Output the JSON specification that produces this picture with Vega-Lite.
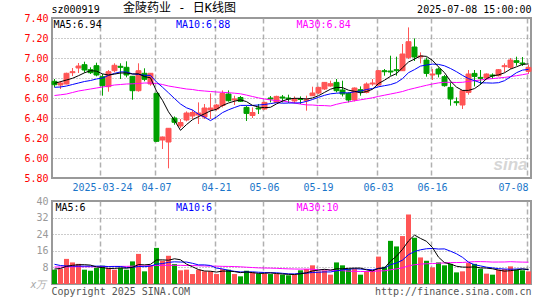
{
"$schema":"https://vega.github.io/schema/vega-lite/v6.json",
"padding":{"left":22,"top":1,"right":14,"bottom":2},
"background":"white",
"spacing":2,
"datasets":{"k":[
{"d":"2025-03-12","o":6.767,"h":6.79,"l":6.707,"c":6.733,"v":6.9,"m5":6.747,"m10":6.707,"m30":6.625,"v5":7.2,"v10":9.5,"v30":8.2},
{"d":"2025-03-13","o":6.73,"h":6.77,"l":6.69,"c":6.75,"v":7.4,"m5":6.763,"m10":6.71,"m30":6.632,"v5":7.5,"v10":8.9,"v30":8.2},
{"d":"2025-03-14","o":6.74,"h":6.853,"l":6.737,"c":6.847,"v":12.1,"m5":6.78,"m10":6.72,"m30":6.64,"v5":8.5,"v10":8.7,"v30":8.2},
{"d":"2025-03-17","o":6.853,"h":6.9,"l":6.82,"c":6.863,"v":10.4,"m5":6.797,"m10":6.735,"m30":6.655,"v5":9.0,"v10":8.6,"v30":8.3},
{"d":"2025-03-18","o":6.9,"h":6.95,"l":6.85,"c":6.92,"v":9.7,"m5":6.823,"m10":6.75,"m30":6.67,"v5":9.3,"v10":8.6,"v30":8.3},
{"d":"2025-03-19","o":6.933,"h":6.963,"l":6.853,"c":6.88,"v":6.9,"m5":6.852,"m10":6.765,"m30":6.68,"v5":9.3,"v10":8.6,"v30":8.3},
{"d":"2025-03-20","o":6.883,"h":6.907,"l":6.84,"c":6.853,"v":6.4,"m5":6.873,"m10":6.775,"m30":6.69,"v5":9.1,"v10":8.6,"v30":8.3},
{"d":"2025-03-21","o":6.923,"h":6.953,"l":6.817,"c":6.83,"v":7.7,"m5":6.869,"m10":6.79,"m30":6.7,"v5":8.22,"v10":8.6,"v30":8.3},
{"d":"2025-03-24","o":6.813,"h":6.84,"l":6.623,"c":6.723,"v":8.8,"m5":6.841,"m10":6.8,"m30":6.71,"v5":7.9,"v10":8.6,"v30":8.4},
{"d":"2025-03-25","o":6.713,"h":6.88,"l":6.663,"c":6.863,"v":7.7,"m5":6.83,"m10":6.826,"m30":6.72,"v5":7.5,"v10":8.4,"v30":8.4},
{"d":"2025-03-26","o":6.873,"h":6.947,"l":6.857,"c":6.927,"v":6.9,"m5":6.839,"m10":6.846,"m30":6.73,"v5":7.5,"v10":8.4,"v30":8.5},
{"d":"2025-03-27","o":6.917,"h":6.947,"l":6.79,"c":6.907,"v":7.7,"m5":6.85,"m10":6.861,"m30":6.735,"v5":7.76,"v10":8.43,"v30":8.5},
{"d":"2025-03-28","o":6.907,"h":6.967,"l":6.807,"c":6.83,"v":6.9,"m5":6.85,"m10":6.86,"m30":6.74,"v5":7.6,"v10":7.91,"v30":8.5},
{"d":"2025-03-31","o":6.817,"h":6.82,"l":6.583,"c":6.673,"v":10.9,"m5":6.84,"m10":6.841,"m30":6.742,"v5":8.02,"v10":7.96,"v30":8.6},
{"d":"2025-04-01","o":6.673,"h":6.947,"l":6.663,"c":6.873,"v":14.5,"m5":6.842,"m10":6.836,"m30":6.745,"v5":9.38,"v10":8.44,"v30":8.7},
{"d":"2025-04-02","o":6.847,"h":6.897,"l":6.767,"c":6.787,"v":6.1,"m5":6.814,"m10":6.827,"m30":6.75,"v5":9.22,"v10":8.36,"v30":8.7},
{"d":"2025-04-03","o":6.74,"h":6.85,"l":6.723,"c":6.847,"v":9.0,"m5":6.802,"m10":6.826,"m30":6.75,"v5":9.48,"v10":8.62,"v30":8.8},
{"d":"2025-04-07","o":6.647,"h":6.65,"l":6.16,"c":6.167,"v":17.4,"m5":6.669,"m10":6.76,"m30":6.745,"v5":11.58,"v10":9.59,"v30":8.9},
{"d":"2025-04-08","o":6.18,"h":6.215,"l":6.09,"c":6.21,"v":11.2,"m5":6.577,"m10":6.708,"m30":6.735,"v5":11.64,"v10":9.83,"v30":9.0},
{"d":"2025-04-09","o":6.16,"h":6.3,"l":5.897,"c":6.297,"v":13.6,"m5":6.462,"m10":6.652,"m30":6.72,"v5":11.46,"v10":10.42,"v30":9.0},
{"d":"2025-04-10","o":6.4,"h":6.416,"l":6.333,"c":6.357,"v":9.6,"m5":6.376,"m10":6.595,"m30":6.71,"v5":12.16,"v10":10.69,"v30":9.0},
{"d":"2025-04-11","o":6.32,"h":6.39,"l":6.3,"c":6.355,"v":6.6,"m5":6.277,"m10":6.54,"m30":6.7,"v5":11.68,"v10":10.58,"v30":9.0},
{"d":"2025-04-14","o":6.38,"h":6.466,"l":6.366,"c":6.45,"v":6.9,"m5":6.334,"m10":6.502,"m30":6.69,"v5":9.58,"v10":10.58,"v30":8.9},
{"d":"2025-04-15","o":6.42,"h":6.48,"l":6.39,"c":6.455,"v":4.8,"m5":6.383,"m10":6.48,"m30":6.685,"v5":8.3,"v10":9.97,"v30":8.9},
{"d":"2025-04-16","o":6.43,"h":6.556,"l":6.34,"c":6.45,"v":6.9,"m5":6.413,"m10":6.438,"m30":6.675,"v5":6.96,"v10":9.21,"v30":8.8},
{"d":"2025-04-17","o":6.41,"h":6.54,"l":6.39,"c":6.5,"v":6.1,"m5":6.442,"m10":6.409,"m30":6.67,"v5":6.26,"v10":9.21,"v30":8.7},
{"d":"2025-04-18","o":6.48,"h":6.646,"l":6.39,"c":6.5,"v":6.1,"m5":6.471,"m10":6.374,"m30":6.665,"v5":6.16,"v10":8.92,"v30":8.6},
{"d":"2025-04-21","o":6.49,"h":6.54,"l":6.473,"c":6.53,"v":4.8,"m5":6.487,"m10":6.41,"m30":6.66,"v5":5.74,"v10":7.66,"v30":8.6},
{"d":"2025-04-22","o":6.525,"h":6.676,"l":6.506,"c":6.645,"v":7.2,"m5":6.525,"m10":6.454,"m30":6.657,"v5":6.22,"v10":7.26,"v30":8.5},
{"d":"2025-04-23","o":6.64,"h":6.676,"l":6.563,"c":6.573,"v":6.9,"m5":6.55,"m10":6.482,"m30":6.653,"v5":6.22,"v10":6.59,"v30":8.47},
{"d":"2025-04-24","o":6.58,"h":6.623,"l":6.53,"c":6.59,"v":4.8,"m5":6.568,"m10":6.505,"m30":6.648,"v5":5.96,"v10":6.11,"v30":8.4},
{"d":"2025-04-25","o":6.605,"h":6.62,"l":6.56,"c":6.567,"v":3.7,"m5":6.581,"m10":6.526,"m30":6.642,"v5":5.48,"v10":5.82,"v30":8.28},
{"d":"2025-04-28","o":6.506,"h":6.523,"l":6.37,"c":6.446,"v":6.4,"m5":6.564,"m10":6.526,"m30":6.629,"v5":5.8,"v10":5.77,"v30":8.09},
{"d":"2025-04-29","o":6.425,"h":6.506,"l":6.4,"c":6.455,"v":5.6,"m5":6.526,"m10":6.526,"m30":6.615,"v5":5.48,"v10":5.85,"v30":7.93},
{"d":"2025-04-30","o":6.5,"h":6.54,"l":6.44,"c":6.49,"v":5.0,"m5":6.51,"m10":6.53,"m30":6.601,"v5":5.1,"v10":5.66,"v30":7.77},
{"d":"2025-05-06","o":6.49,"h":6.563,"l":6.483,"c":6.556,"v":5.0,"m5":6.503,"m10":6.535,"m30":6.59,"v5":5.14,"v10":5.55,"v30":7.71},
{"d":"2025-05-07","o":6.6,"h":6.62,"l":6.556,"c":6.59,"v":4.8,"m5":6.507,"m10":6.544,"m30":6.581,"v5":5.36,"v10":5.42,"v30":7.65},
{"d":"2025-05-08","o":6.556,"h":6.623,"l":6.55,"c":6.616,"v":4.8,"m5":6.541,"m10":6.553,"m30":6.574,"v5":5.04,"v10":5.42,"v30":7.56},
{"d":"2025-05-09","o":6.61,"h":6.63,"l":6.556,"c":6.6,"v":4.5,"m5":6.57,"m10":6.548,"m30":6.57,"v5":4.82,"v10":5.15,"v30":7.41},
{"d":"2025-05-12","o":6.6,"h":6.633,"l":6.55,"c":6.59,"v":4.2,"m5":6.59,"m10":6.55,"m30":6.561,"v5":4.66,"v10":4.88,"v30":7.3},
{"d":"2025-05-13","o":6.57,"h":6.616,"l":6.546,"c":6.59,"v":4.5,"m5":6.597,"m10":6.55,"m30":6.55,"v5":4.56,"v10":4.85,"v30":7.22},
{"d":"2025-05-14","o":6.59,"h":6.616,"l":6.54,"c":6.585,"v":6.6,"m5":6.596,"m10":6.552,"m30":6.539,"v5":4.92,"v10":5.14,"v30":7.18},
{"d":"2025-05-15","o":6.573,"h":6.623,"l":6.473,"c":6.583,"v":7.2,"m5":6.59,"m10":6.566,"m30":6.531,"v5":5.4,"v10":5.22,"v30":7.19},
{"d":"2025-05-16","o":6.623,"h":6.713,"l":6.62,"c":6.65,"v":9.0,"m5":6.6,"m10":6.585,"m30":6.53,"v5":6.3,"v10":5.56,"v30":7.13},
{"d":"2025-05-19","o":6.65,"h":6.713,"l":6.64,"c":6.706,"v":6.1,"m5":6.623,"m10":6.607,"m30":6.525,"v5":6.68,"v10":5.67,"v30":6.85},
{"d":"2025-05-20","o":6.69,"h":6.76,"l":6.68,"c":6.756,"v":6.6,"m5":6.656,"m10":6.627,"m30":6.524,"v5":7.1,"v10":5.83,"v30":6.86},
{"d":"2025-05-21","o":6.72,"h":6.773,"l":6.713,"c":6.743,"v":4.5,"m5":6.688,"m10":6.642,"m30":6.52,"v5":6.68,"v10":5.8,"v30":6.71},
{"d":"2025-05-22","o":6.756,"h":6.79,"l":6.656,"c":6.673,"v":10.4,"m5":6.706,"m10":6.648,"m30":6.537,"v5":7.32,"v10":6.36,"v30":6.48},
{"d":"2025-05-23","o":6.68,"h":6.773,"l":6.616,"c":6.64,"v":9.0,"m5":6.704,"m10":6.652,"m30":6.551,"v5":7.32,"v10":6.81,"v30":6.41},
{"d":"2025-05-26","o":6.646,"h":6.656,"l":6.556,"c":6.58,"v":7.2,"m5":6.678,"m10":6.651,"m30":6.561,"v5":7.54,"v10":7.11,"v30":6.19},
{"d":"2025-05-27","o":6.58,"h":6.706,"l":6.566,"c":6.7,"v":7.2,"m5":6.667,"m10":6.662,"m30":6.572,"v5":7.66,"v10":7.38,"v30":6.11},
{"d":"2025-05-28","o":6.683,"h":6.716,"l":6.623,"c":6.663,"v":4.5,"m5":6.651,"m10":6.669,"m30":6.582,"v5":7.66,"v10":7.17,"v30":6.04},
{"d":"2025-05-29","o":6.656,"h":6.756,"l":6.646,"c":6.74,"v":6.1,"m5":6.665,"m10":6.685,"m30":6.592,"v5":6.8,"v10":7.06,"v30":6.02},
{"d":"2025-05-30","o":6.74,"h":6.79,"l":6.723,"c":6.75,"v":6.6,"m5":6.687,"m10":6.695,"m30":6.602,"v5":6.32,"v10":6.82,"v30":6.08},
{"d":"2025-06-03","o":6.73,"h":6.88,"l":6.723,"c":6.873,"v":13.2,"m5":6.745,"m10":6.712,"m30":6.616,"v5":7.52,"v10":7.53,"v30":6.29},
{"d":"2025-06-04","o":6.873,"h":6.89,"l":6.823,"c":6.863,"v":8.3,"m5":6.778,"m10":6.723,"m30":6.628,"v5":7.74,"v10":7.7,"v30":6.36},
{"d":"2025-06-05","o":6.87,"h":7.023,"l":6.823,"c":6.86,"v":20.8,"m5":6.817,"m10":6.734,"m30":6.64,"v5":11.0,"v10":9.33,"v30":6.85},
{"d":"2025-06-06","o":6.883,"h":7.013,"l":6.823,"c":6.873,"v":18.1,"m5":6.844,"m10":6.754,"m30":6.652,"v5":13.4,"v10":10.1,"v30":7.29},
{"d":"2025-06-09","o":6.873,"h":7.14,"l":6.87,"c":7.04,"v":23.1,"m5":6.902,"m10":6.794,"m30":6.665,"v5":16.7,"v10":11.51,"v30":7.82},
{"d":"2025-06-10","o":7.006,"h":7.306,"l":6.99,"c":7.163,"v":33.5,"m5":6.96,"m10":6.853,"m30":6.684,"v5":20.76,"v10":14.14,"v30":8.71},
{"d":"2025-06-11","o":7.11,"h":7.196,"l":6.97,"c":7.01,"v":22.3,"m5":6.989,"m10":6.884,"m30":6.698,"v5":23.56,"v10":15.65,"v30":9.29},
{"d":"2025-06-12","o":7.01,"h":7.056,"l":6.946,"c":7.02,"v":12.8,"m5":7.021,"m10":6.919,"m30":6.713,"v5":21.96,"v10":16.48,"v30":9.6},
{"d":"2025-06-13","o":6.98,"h":7.006,"l":6.813,"c":6.846,"v":11.2,"m5":7.016,"m10":6.93,"m30":6.727,"v5":20.58,"v10":16.99,"v30":9.76},
{"d":"2025-06-16","o":6.83,"h":6.89,"l":6.78,"c":6.84,"v":8.0,"m5":6.976,"m10":6.939,"m30":6.74,"v5":17.56,"v10":17.13,"v30":9.84},
{"d":"2025-06-17","o":6.89,"h":6.906,"l":6.806,"c":6.84,"v":10.4,"m5":6.911,"m10":6.936,"m30":6.751,"v5":12.94,"v10":16.85,"v30":10.02},
{"d":"2025-06-18","o":6.813,"h":6.83,"l":6.713,"c":6.723,"v":9.0,"m5":6.854,"m10":6.922,"m30":6.757,"v5":10.28,"v10":16.92,"v30":10.15},
{"d":"2025-06-19","o":6.706,"h":6.763,"l":6.523,"c":6.59,"v":9.7,"m5":6.768,"m10":6.895,"m30":6.757,"v5":9.66,"v10":15.81,"v30":10.31},
{"d":"2025-06-20","o":6.563,"h":6.606,"l":6.523,"c":6.553,"v":5.6,"m5":6.709,"m10":6.863,"m30":6.755,"v5":8.54,"v10":14.56,"v30":10.34},
{"d":"2025-06-23","o":6.53,"h":6.68,"l":6.49,"c":6.673,"v":6.1,"m5":6.676,"m10":6.826,"m30":6.757,"v5":8.16,"v10":12.86,"v30":10.39},
{"d":"2025-06-24","o":6.656,"h":6.88,"l":6.633,"c":6.84,"v":10.1,"m5":6.676,"m10":6.794,"m30":6.766,"v5":8.1,"v10":10.52,"v30":10.59},
{"d":"2025-06-25","o":6.846,"h":6.88,"l":6.716,"c":6.816,"v":9.7,"m5":6.694,"m10":6.774,"m30":6.773,"v5":8.24,"v10":9.26,"v30":10.76},
{"d":"2025-06-26","o":6.806,"h":6.88,"l":6.733,"c":6.796,"v":7.4,"m5":6.736,"m10":6.752,"m30":6.78,"v5":7.78,"v10":8.72,"v30":10.79},
{"d":"2025-06-27","o":6.8,"h":6.846,"l":6.78,"c":6.84,"v":5.0,"m5":6.793,"m10":6.751,"m30":6.789,"v5":7.66,"v10":8.1,"v30":10.72},
{"d":"2025-06-30","o":6.83,"h":6.846,"l":6.79,"c":6.82,"v":4.5,"m5":6.822,"m10":6.749,"m30":6.794,"v5":7.34,"v10":7.75,"v30":10.57},
{"d":"2025-07-01","o":6.823,"h":6.89,"l":6.816,"c":6.883,"v":6.9,"m5":6.831,"m10":6.753,"m30":6.8,"v5":6.7,"v10":7.4,"v30":10.59},
{"d":"2025-07-02","o":6.913,"h":6.946,"l":6.856,"c":6.923,"v":7.2,"m5":6.852,"m10":6.773,"m30":6.806,"v5":6.2,"v10":7.22,"v30":10.61},
{"d":"2025-07-03","o":6.906,"h":7.0,"l":6.89,"c":6.98,"v":8.5,"m5":6.889,"m10":6.812,"m30":6.814,"v5":6.42,"v10":7.1,"v30":10.75},
{"d":"2025-07-04","o":6.973,"h":7.013,"l":6.923,"c":6.956,"v":6.9,"m5":6.912,"m10":6.853,"m30":6.823,"v5":6.8,"v10":7.23,"v30":10.63},
{"d":"2025-07-07","o":6.95,"h":7.01,"l":6.92,"c":6.94,"v":6.6,"m5":6.936,"m10":6.879,"m30":6.833,"v5":7.22,"v10":7.28,"v30":10.55},
{"d":"2025-07-08","o":6.866,"h":6.933,"l":6.84,"c":6.906,"v":6.1,"m5":6.941,"m10":6.886,"m30":6.844,"v5":7.06,"v10":6.88,"v30":10.51}
]},
"config":{
 "view":{"stroke":"#999999","strokeWidth":2},
 "font":"DejaVu Sans Mono",
 "axis":{"domain":false,"ticks":false,"title":null,"labelFont":"DejaVu Sans Mono","labelFontSize":10,"gridColor":"#aaaaaa","gridWidth":1,"labelAngle":0,"labelOverlap":false,"labelBound":false},
 "axisX":{"gridDash":[5,3],"gridWidth":1.5,"gridColor":"#b0b0b0"},
 "axisY":{"gridDash":[1,2],"gridColor":"#999999"}
},
"vconcat":[
{
 "width":479,"height":160,
 "layer":[
  {"data":{"name":"k"},"mark":{"type":"rule","strokeWidth":1},
   "encoding":{
    "x":{"field":"d","type":"ordinal","scale":{"paddingInner":0.17,"paddingOuter":0},
      "axis":{"values":["2025-03-24","2025-04-07","2025-04-21","2025-05-06","2025-05-19","2025-06-03","2025-06-16","2025-07-08"],
        "labelExpr":"datum.value == '2025-03-24' ? datum.value : slice(datum.value, 5)","labelColor":"#1a75c9","labelPadding":4,"grid":true,"bandPosition":0.2,"labelFlush":10,"labelOverlap":false}},
    "y":{"field":"l","type":"quantitative","scale":{"domain":[5.8,7.4],"nice":false,"zero":false},
      "axis":{"values":[5.8,6.0,6.2,6.4,6.6,6.8,7.0,7.2,7.4],"format":".2f","labelColor":"#ff0000","labelPadding":4,"grid":true,"labelOverlap":false,"tickCount":9}},
    "y2":{"field":"h"},
    "color":{"condition":{"test":"datum.c >= datum.o","value":"#ff5555"},"value":"#00a000"}}},
  {"data":{"name":"k"},"mark":{"type":"bar","strokeWidth":1},
   "encoding":{
    "x":{"field":"d","type":"ordinal"},
    "y":{"field":"o","type":"quantitative"},
    "y2":{"field":"c"},
    "color":{"condition":{"test":"datum.c >= datum.o","value":"#ff5555"},"value":"#00a000"},
    "stroke":{"condition":{"test":"datum.c >= datum.o","value":"#ff5555"},"value":"#00a000"}}},
  {"data":{"name":"k"},"mark":{"type":"line","strokeWidth":1,"color":"#ff00ff"},
   "encoding":{"x":{"field":"d","type":"ordinal"},"y":{"field":"m30","type":"quantitative"}}},
  {"data":{"name":"k"},"mark":{"type":"line","strokeWidth":1,"color":"#0000ff"},
   "encoding":{"x":{"field":"d","type":"ordinal"},"y":{"field":"m10","type":"quantitative"}}},
  {"data":{"name":"k"},"mark":{"type":"line","strokeWidth":1,"color":"#000000"},
   "encoding":{"x":{"field":"d","type":"ordinal"},"y":{"field":"m5","type":"quantitative"}}},
  {"data":{"values":[{}]},"mark":{"type":"text","align":"left","baseline":"top","dx":-1,"dy":2,"fontSize":10,"color":"#000000"},
   "encoding":{"x":{"datum":"2025-03-12","type":"ordinal"},"y":{"datum":7.4,"type":"quantitative"},"text":{"value":"MA5:6.94"}}},
  {"data":{"values":[{}]},"mark":{"type":"text","align":"left","baseline":"top","dx":1.5,"dy":2,"fontSize":10,"color":"#0000ff"},
   "encoding":{"x":{"datum":"2025-04-10","type":"ordinal"},"y":{"datum":7.4,"type":"quantitative"},"text":{"value":"MA10:6.88"}}},
  {"data":{"values":[{}]},"mark":{"type":"text","align":"left","baseline":"top","dx":2,"dy":2,"fontSize":10,"color":"#ff00ff"},
   "encoding":{"x":{"datum":"2025-05-13","type":"ordinal"},"y":{"datum":7.4,"type":"quantitative"},"text":{"value":"MA30:6.84"}}},
  {"data":{"values":[{}]},"mark":{"type":"text","align":"left","baseline":"bottom","dx":-3,"dy":-3,"fontSize":10,"color":"#000000"},
   "encoding":{"x":{"datum":"2025-03-12","type":"ordinal"},"y":{"datum":7.4,"type":"quantitative"},"text":{"value":"sz000919"}}},
  {"data":{"values":[{}]},"mark":{"type":"text","align":"center","baseline":"bottom","dx":-1,"dy":-3,"fontSize":12,"font":"DejaVu Sans Mono, Noto Sans CJK SC","color":"#000000"},
   "encoding":{"x":{"datum":"2025-04-11","type":"ordinal"},"y":{"datum":7.4,"type":"quantitative"},"text":{"value":"金陵药业 - 日K线图"}}},
  {"data":{"values":[{}]},"mark":{"type":"text","align":"right","baseline":"bottom","dx":3,"dy":-3,"fontSize":10,"color":"#000000"},
   "encoding":{"x":{"datum":"2025-07-08","type":"ordinal"},"y":{"datum":7.4,"type":"quantitative"},"text":{"value":"2025-07-08 15:00:00"}}},
  {"data":{"values":[{}]},"mark":{"type":"text","align":"center","baseline":"bottom","dy":-4,"fontSize":17,"fontStyle":"italic","fontWeight":"bold","font":"Liberation Sans","color":"#d6d6d6"},
   "encoding":{"x":{"datum":"2025-07-03","type":"ordinal"},"y":{"datum":5.8,"type":"quantitative"},"text":{"value":"sina"}}}
 ]
},
{
 "width":479,"height":83,
 "layer":[
  {"data":{"name":"k"},"mark":{"type":"bar"},
   "encoding":{
    "x":{"field":"d","type":"ordinal","scale":{"paddingInner":0.17,"paddingOuter":0},
      "axis":{"values":["2025-03-24","2025-04-07","2025-04-21","2025-05-06","2025-05-19","2025-06-03","2025-06-16","2025-07-08"],"labels":false,"grid":true,"bandPosition":0.2}},
    "y":{"field":"v","type":"quantitative","scale":{"domain":[0,40],"nice":false},
      "axis":{"values":[8,16,24,32,40],"labelColor":"#999999","labelPadding":4,"grid":true,"labelOverlap":false,"tickCount":5}},
    "color":{"condition":{"test":"datum.c >= datum.o","value":"#ff5555"},"value":"#00a000"}}},
  {"data":{"name":"k"},"mark":{"type":"line","strokeWidth":1,"color":"#ff00ff"},
   "encoding":{"x":{"field":"d","type":"ordinal"},"y":{"field":"v30","type":"quantitative"}}},
  {"data":{"name":"k"},"mark":{"type":"line","strokeWidth":1,"color":"#0000ff"},
   "encoding":{"x":{"field":"d","type":"ordinal"},"y":{"field":"v10","type":"quantitative"}}},
  {"data":{"name":"k"},"mark":{"type":"line","strokeWidth":1,"color":"#000000"},
   "encoding":{"x":{"field":"d","type":"ordinal"},"y":{"field":"v5","type":"quantitative"}}},
  {"data":{"values":[{}]},"mark":{"type":"text","align":"left","baseline":"top","dx":1,"dy":2,"fontSize":10,"color":"#000000"},
   "encoding":{"x":{"datum":"2025-03-12","type":"ordinal"},"y":{"datum":40,"type":"quantitative"},"text":{"value":"MA5:6"}}},
  {"data":{"values":[{}]},"mark":{"type":"text","align":"left","baseline":"top","dx":1.5,"dy":2,"fontSize":10,"color":"#0000ff"},
   "encoding":{"x":{"datum":"2025-04-10","type":"ordinal"},"y":{"datum":40,"type":"quantitative"},"text":{"value":"MA10:6"}}},
  {"data":{"values":[{}]},"mark":{"type":"text","align":"left","baseline":"top","dx":2,"dy":2,"fontSize":10,"color":"#ff00ff"},
   "encoding":{"x":{"datum":"2025-05-13","type":"ordinal"},"y":{"datum":40,"type":"quantitative"},"text":{"value":"MA30:10"}}},
  {"data":{"values":[{}]},"mark":{"type":"text","align":"left","baseline":"top","dx":-3,"dy":3,"fontSize":10,"color":"#555555"},
   "encoding":{"x":{"datum":"2025-03-12","type":"ordinal"},"y":{"datum":0,"type":"quantitative"},"text":{"value":"Copyright 2025 SINA.COM"}}},
  {"data":{"values":[{}]},"mark":{"type":"text","align":"right","baseline":"top","dx":3,"dy":3,"fontSize":10,"color":"#555555"},
   "encoding":{"x":{"datum":"2025-07-08","type":"ordinal"},"y":{"datum":0,"type":"quantitative"},"text":{"value":"http://finance.sina.com.cn"}}},
  {"data":{"values":[{}]},"mark":{"type":"text","align":"right","baseline":"middle","dx":-8,"dy":1,"fontSize":10,"fontStyle":"italic","color":"#aaaaaa"},
   "encoding":{"x":{"datum":"2025-03-12","type":"ordinal"},"y":{"datum":0,"type":"quantitative"},"text":{"value":"x万"}}}
 ]
}
]
}
